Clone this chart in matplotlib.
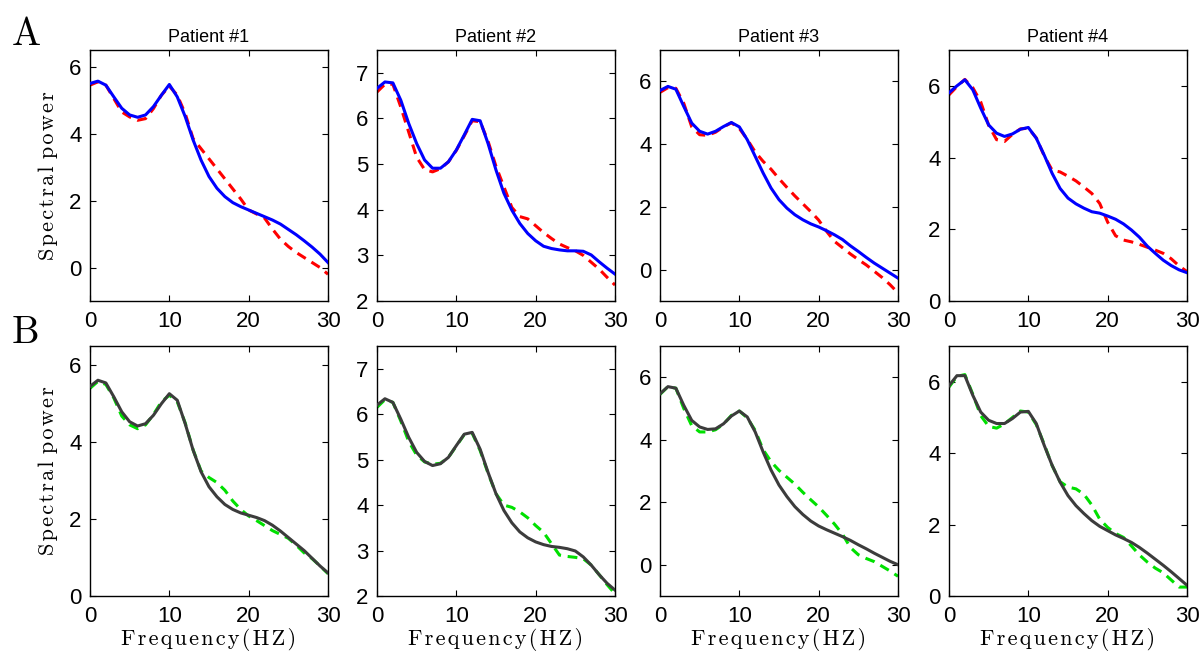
"""
Spectral power fits for four patients (rows A and B).
"""

import matplotlib.pyplot as plt

freqs = list(range(0, 31))

patients = ["Patient #1", "Patient #2", "Patient #3", "Patient #4"]

# row A: solid (blue) model fit and dashed (red) data
a_fit = [
    [5.50, 5.57, 5.45, 5.10, 4.76, 4.56, 4.49, 4.56, 4.81, 5.15, 5.47, 5.10,
     4.51, 3.81, 3.21, 2.72, 2.37, 2.12, 1.94, 1.82, 1.72, 1.62, 1.52, 1.42,
     1.30, 1.14, 0.98, 0.80, 0.61, 0.40, 0.15],
    [6.66, 6.80, 6.78, 6.40, 5.89, 5.45, 5.09, 4.91, 4.91, 5.05, 5.31, 5.64,
     5.98, 5.95, 5.45, 4.87, 4.36, 3.99, 3.70, 3.48, 3.32, 3.20, 3.15, 3.12,
     3.10, 3.10, 3.09, 3.01, 2.86, 2.72, 2.59],
    [5.71, 5.84, 5.75, 5.20, 4.67, 4.41, 4.32, 4.41, 4.56, 4.69, 4.55, 4.14,
     3.61, 3.08, 2.60, 2.23, 1.96, 1.75, 1.59, 1.46, 1.36, 1.24, 1.11, 0.96,
     0.76, 0.58, 0.39, 0.21, 0.05, -0.11, -0.27],
    [5.81, 6.00, 6.17, 5.89, 5.38, 4.91, 4.68, 4.59, 4.66, 4.79, 4.84, 4.54,
     4.07, 3.56, 3.14, 2.87, 2.71, 2.59, 2.49, 2.45, 2.37, 2.28, 2.15, 1.98,
     1.78, 1.53, 1.33, 1.14, 0.99, 0.87, 0.79],
]
a_data = [
    [5.45, 5.55, 5.45, 5.05, 4.65, 4.50, 4.40, 4.45, 4.75, 5.15, 5.42, 5.15,
     4.60, 3.85, 3.55, 3.25, 2.95, 2.65, 2.35, 2.05, 1.72, 1.60, 1.48, 1.15,
     0.85, 0.63, 0.45, 0.30, 0.15, 0.00, -0.20],
    [6.58, 6.75, 6.75, 6.25, 5.70, 5.15, 4.88, 4.83, 4.90, 5.05, 5.30, 5.62,
     5.95, 5.93, 5.50, 4.95, 4.50, 4.05, 3.85, 3.80, 3.65, 3.50, 3.37, 3.25,
     3.17, 3.10, 3.00, 2.85, 2.70, 2.52, 2.35],
    [5.65, 5.80, 5.78, 5.30, 4.55, 4.30, 4.28, 4.38, 4.55, 4.68, 4.50, 4.15,
     3.75, 3.45, 3.20, 2.90, 2.62, 2.35, 2.10, 1.85, 1.58, 1.22, 0.90, 0.70,
     0.50, 0.32, 0.15, -0.05, -0.25, -0.48, -0.74],
    [5.75, 5.98, 6.18, 5.95, 5.55, 4.90, 4.50, 4.45, 4.65, 4.80, 4.82, 4.55,
     4.05, 3.65, 3.60, 3.48, 3.35, 3.18, 3.00, 2.72, 2.20, 1.82, 1.70, 1.65,
     1.58, 1.50, 1.42, 1.33, 1.18, 0.98, 0.82],
]

# row B: solid (dark grey) model fit and dashed (green) data
b_fit = [
    [5.45, 5.61, 5.54, 5.18, 4.79, 4.53, 4.42, 4.48, 4.70, 5.00, 5.26, 5.09,
     4.48, 3.79, 3.23, 2.84, 2.58, 2.38, 2.25, 2.16, 2.10, 2.04, 1.96, 1.84,
     1.69, 1.52, 1.35, 1.18, 0.98, 0.78, 0.60],
    [6.20, 6.34, 6.26, 5.89, 5.49, 5.16, 4.96, 4.87, 4.91, 5.05, 5.31, 5.56,
     5.60, 5.23, 4.72, 4.25, 3.88, 3.61, 3.41, 3.28, 3.19, 3.13, 3.09, 3.07,
     3.04, 2.99, 2.86, 2.68, 2.47, 2.28, 2.13],
    [5.47, 5.70, 5.65, 5.10, 4.62, 4.41, 4.33, 4.35, 4.51, 4.76, 4.92, 4.73,
     4.25, 3.61, 3.03, 2.55, 2.18, 1.86, 1.61, 1.40, 1.24, 1.12, 1.01, 0.90,
     0.78, 0.64, 0.51, 0.37, 0.24, 0.11, 0.00],
    [5.89, 6.17, 6.17, 5.62, 5.15, 4.92, 4.83, 4.83, 4.97, 5.15, 5.17, 4.83,
     4.22, 3.66, 3.19, 2.81, 2.53, 2.31, 2.11, 1.95, 1.83, 1.71, 1.61, 1.50,
     1.36, 1.20, 1.03, 0.86, 0.68, 0.49, 0.30],
]
b_data = [
    [5.40, 5.58, 5.50, 5.15, 4.68, 4.45, 4.35, 4.45, 4.72, 5.05, 5.22, 5.05,
     4.50, 3.80, 3.25, 3.08, 2.95, 2.75, 2.47, 2.25, 2.08, 1.96, 1.83, 1.70,
     1.60, 1.50, 1.32, 1.12, 0.97, 0.78, 0.58],
    [6.15, 6.32, 6.26, 5.85, 5.40, 5.10, 4.95, 4.90, 4.92, 5.05, 5.30, 5.55,
     5.58, 5.20, 4.70, 4.25, 4.00, 3.95, 3.85, 3.72, 3.55, 3.40, 3.15, 2.90,
     2.87, 2.85, 2.82, 2.68, 2.47, 2.25, 2.05],
    [5.45, 5.70, 5.65, 5.00, 4.45, 4.25, 4.25, 4.32, 4.50, 4.78, 4.92, 4.70,
     4.30, 3.68, 3.30, 3.02, 2.80, 2.58, 2.32, 2.08, 1.85, 1.58, 1.30, 0.98,
     0.55, 0.32, 0.20, 0.10, -0.05, -0.20, -0.37],
    [5.85, 6.15, 6.20, 5.65, 5.05, 4.75, 4.70, 4.82, 5.00, 5.18, 5.15, 4.80,
     4.25, 3.65, 3.20, 3.05, 3.00, 2.85, 2.55, 2.15, 1.92, 1.75, 1.64, 1.40,
     1.15, 0.95, 0.78, 0.65, 0.45, 0.25, 0.25],
]

a_ylims = [(-1, 6.5), (2, 7.5), (-1, 7), (0, 7)]
b_ylims = [(0, 6.5), (2, 7.5), (-1, 7), (0, 7)]
yticks = [[0, 2, 4, 6], [2, 3, 4, 5, 6, 7], [0, 2, 4, 6], [0, 2, 4, 6]]

plt.rcParams["font.family"] = ["Liberation Sans", "DejaVu Sans"]

serif = ["cmr10", "DejaVu Serif", "DejaVu Sans"]
hair = "\u200a"


def spaced(text):
    return hair.join(text)


fig = plt.figure(figsize=(12, 6.52), dpi=100)

lefts = [90, 377, 660, 949]
width = 238 / 1200
rows = [
    (0.5383, 0.385, a_fit, a_data, "blue", "red", a_ylims),
    (0.0859, 0.3834, b_fit, b_data, "#3c3c3c", "#00e000", b_ylims),
]

for r, (bottom, height, fits, datas, c_fit, c_data, ylims) in enumerate(rows):
    for i in range(4):
        ax = fig.add_axes([lefts[i] / 1200, bottom, width, height])
        ax.plot(freqs, datas[i], color=c_data, lw=2.2, ls=(0, (3.2, 2.2)),
                zorder=2)
        ax.plot(freqs, fits[i], color=c_fit, lw=2.2, zorder=3,
                solid_joinstyle="round")
        ax.set_xlim(0, 30)
        ax.set_ylim(*ylims[i])
        ax.set_xticks([0, 10, 20, 30])
        ax.set_yticks(yticks[i])
        ax.tick_params(direction="in", length=4, width=0.8, labelsize=16,
                       top=True, right=True)
        ax.tick_params(axis="x", pad=7)
        ax.tick_params(axis="y", pad=6)
        for s in ax.spines.values():
            s.set_linewidth(1.0)
        if r == 0:
            ax.set_title(patients[i], fontsize=13, pad=6)
        else:
            ax.set_xlabel(spaced("Frequency(HZ)"), family=serif,
                          fontsize=16, labelpad=1)
        if i == 0:
            ax.set_ylabel(spaced("Spectral") + " " + spaced("power"),
                          family=serif, fontsize=16, labelpad=8)

fig.text(12 / 1200, 1 - 45 / 652, "A", family=serif, fontsize=28)
fig.text(12 / 1200, 1 - 343 / 652, "B", family=serif, fontsize=28)

fig.savefig("out.png", dpi=100)
plt.close(fig)
